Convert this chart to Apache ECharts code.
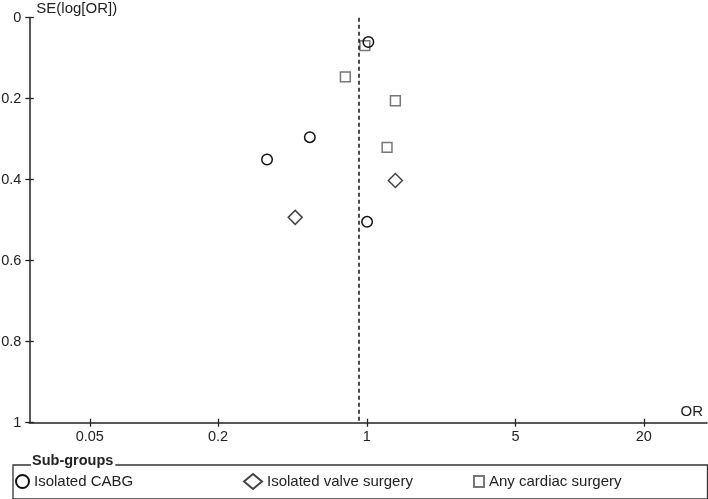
<!DOCTYPE html>
<html>
<head>
<meta charset="utf-8">
<script src="https://cdn.jsdelivr.net/npm/echarts@6/dist/echarts.min.js"></script>
<style>
html,body{margin:0;padding:0;background:#fff;}
#chart{width:708px;height:499px;}
</style>
</head>
<body>
<div id="chart"></div>
<script>
// ---- data ----
const cabgOR = [1.017, 0.540, 0.340, 1.003];
const cabgSE = [0.060, 0.295, 0.350, 0.504];
const valveOR = [1.362, 0.461];
const valveSE = [0.402, 0.493];
const anyOR = [0.979, 0.793, 1.362, 1.245];
const anySE = [0.069, 0.146, 0.205, 0.320];
const pooledOR = 0.913;
const xTickLabels = [0.05, 0.2, 1, 5, 20];
const seriesNames = ['Isolated CABG', 'Isolated valve surgery', 'Any cardiac surgery'];
const xRange = [0.026, 39.6];

const FONT = 'Liberation Sans, Arial, Helvetica, sans-serif';
const INK = '#222';

function pts(ors, ses) { return ors.map((o, i) => [Math.log10(o), ses[i]]); }
const xTickVals = xTickLabels.map(v => Math.log10(v));
function fmtX(v) {
  for (const t of xTickLabels) if (Math.abs(Math.log10(t) - v) < 1e-6) return String(t);
  return '';
}

const chart = echarts.init(document.getElementById('chart'), null, {renderer: 'canvas'});
const xBase = {
  type: 'value', min: Math.log10(xRange[0]), max: Math.log10(xRange[1]),
  position: 'bottom', splitLine: {show: false}
};
const yBase = {
  type: 'value', min: 0, max: 1, interval: 0.2, inverse: true,
  position: 'left', splitLine: {show: false}
};
const legendText = {fontFamily: FONT, fontSize: 15, color: INK};
chart.setOption({
  animation: false,
  backgroundColor: '#fff',
  textStyle: {fontFamily: FONT},
  grid: {left: 29.3, right: 1, top: 17.7, bottom: 76.3, containLabel: false, outerBoundsMode: 'none'},
  xAxis: [
    Object.assign({}, xBase, {
      name: 'OR', nameLocation: 'end', nameGap: 0,
      nameTextStyle: {fontFamily: FONT, fontSize: 15, color: INK, align: 'right', verticalAlign: 'bottom', padding: [0, 4, 3, 0]},
      axisLine: {show: true, onZero: false, lineStyle: {color: INK, width: 1.5}},
      axisTick: {show: true, customValues: xTickVals, length: 4, lineStyle: {color: INK, width: 1.3}},
      axisLabel: {show: true, customValues: xTickVals, formatter: fmtX, margin: 7, fontFamily: FONT, fontSize: 14.5, color: INK}
    }),
    Object.assign({}, xBase, {
      axisLine: {show: false, onZero: false},
      axisTick: {show: true, inside: true, customValues: xTickVals, length: 4, lineStyle: {color: INK, width: 1.3}},
      axisLabel: {show: false}
    })
  ],
  yAxis: [
    Object.assign({}, yBase, {
      name: 'SE(log[OR])', nameLocation: 'start', nameGap: 1,
      nameTextStyle: {fontFamily: FONT, fontSize: 15, color: INK, align: 'left', verticalAlign: 'bottom', padding: [0, 0, 0, 7]},
      axisLine: {show: true, onZero: false, lineStyle: {color: INK, width: 1.5}},
      axisTick: {show: true, length: 4, lineStyle: {color: INK, width: 1.3}},
      axisLabel: {show: true, margin: 8, fontFamily: FONT, fontSize: 14.5, color: INK}
    }),
    Object.assign({}, yBase, {
      axisLine: {show: false, onZero: false},
      axisTick: {show: true, inside: true, length: 4.5, lineStyle: {color: INK, width: 1.3}},
      axisLabel: {show: false}
    })
  ],
  legend: [
    {data: [seriesNames[0]], left: 10, top: 469, itemWidth: 13, itemHeight: 13, textStyle: legendText},
    {data: [seriesNames[1]], left: 238, top: 468, itemWidth: 18, itemHeight: 15, textStyle: legendText},
    {data: [seriesNames[2]], left: 468, top: 469, itemWidth: 10, itemHeight: 11, textStyle: legendText}
  ],
  graphic: [
    {type: 'rect', left: 10.5, top: 462.5, z: 0, silent: true,
     shape: {width: 694.5, height: 34},
     style: {fill: 'none', stroke: '#333', lineWidth: 1.3}},
    {type: 'text', left: 31, top: 453.5, z: 10, silent: true,
     style: {text: 'Sub-groups', font: 'bold 14.5px ' + FONT, fill: INK,
             backgroundColor: '#fff', padding: [0, 2, 0, 1]}}
  ],
  series: [
    {name: seriesNames[2], type: 'scatter', data: pts(anyOR, anySE), symbol: 'rect', symbolSize: 9.8,
     itemStyle: {color: 'rgba(255,255,255,0)', borderColor: '#777', borderWidth: 1.5, opacity: 1},
     z: 2},
    {name: seriesNames[1], type: 'scatter', data: pts(valveOR, valveSE), symbol: 'diamond', symbolSize: 14,
     itemStyle: {color: 'rgba(255,255,255,0)', borderColor: '#444', borderWidth: 1.5, opacity: 1},
     z: 3},
    {name: seriesNames[0], type: 'scatter', data: pts(cabgOR, cabgSE), symbol: 'circle', symbolSize: 10.5,
     itemStyle: {color: 'rgba(255,255,255,0)', borderColor: '#111', borderWidth: 1.5, opacity: 1},
     z: 4,
     markLine: {
       silent: true, symbol: ['none', 'none'], label: {show: false},
       lineStyle: {type: [4, 3], color: '#111', width: 1.5},
       data: [{xAxis: Math.log10(pooledOR)}]
     }}
  ]
});
</script>
</body>
</html>
